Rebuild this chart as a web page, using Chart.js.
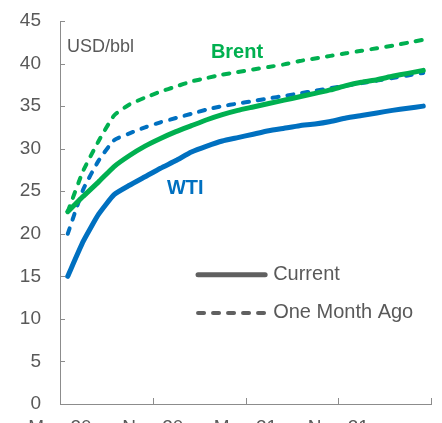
<!DOCTYPE html>
<html><head><meta charset="utf-8">
<script src="https://cdn.jsdelivr.net/npm/chart.js@4/dist/chart.umd.min.js"></script>
<style>html,body{margin:0;padding:0;background:#fff;overflow:hidden}#wrap{width:442px;height:423px;position:relative}</style>
</head><body><div id="wrap"><canvas id="c"></canvas></div>
<script>
// contract months, as months after May-20 (mid-month positions)
const contractMonths = [0.5,1.5,2.5,3.5,4.5,5.5,6.5,7.5,8.5,9.5,10.5,11.5,12.5,13.5,14.5,15.5,16.5,17.5,18.5,19.5,20.5,21.5,22.5,23.5];
const brentCurrent  = [22.6,24.4,26.1,27.9,29.2,30.3,31.2,32.0,32.7,33.4,34.0,34.5,34.9,35.3,35.7,36.1,36.5,36.9,37.4,37.8,38.1,38.5,38.85,39.2];
const brentMonthAgo = [22.6,27.4,30.9,33.9,35.2,36.0,36.7,37.3,37.9,38.3,38.7,39.0,39.3,39.6,39.9,40.3,40.6,40.9,41.2,41.5,41.8,42.1,42.45,42.8];
const wtiCurrent    = [15.0,19.1,22.3,24.6,25.7,26.7,27.7,28.6,29.6,30.3,30.9,31.3,31.7,32.1,32.4,32.7,32.9,33.2,33.6,33.9,34.2,34.5,34.75,35.0];
const wtiMonthAgo   = [20.0,25.2,28.6,31.0,31.8,32.5,33.1,33.6,34.1,34.6,35.0,35.3,35.6,35.9,36.2,36.5,36.8,37.1,37.4,37.7,38.0,38.3,38.6,38.9];
const xTickLabels = ['May-20','Nov-20','May-21','Nov-21'];
const yUnit = 'USD/bbl';
const legendItems = ['Current','One Month Ago'];
const seriesNames = ['Brent','WTI'];

const GREEN = '#00B050', BLUE = '#0070C0', AXIS = '#8c8c8c', TEXT = '#595959';
const FONT = "'Liberation Sans', Arial, sans-serif";

const toPts = vals => vals.map((v,i)=>({x:contractMonths[i], y:v}));
const solid = (label, vals, color) => ({label, data: toPts(vals), borderColor: color, borderWidth: 5, pointRadius: 0, tension: 0.15, borderCapStyle:'round', borderJoinStyle:'round', fill:false});
const dashed = (label, vals, color) => ({label, data: toPts(vals), borderColor: color, borderWidth: 4, borderDash:[6,9], pointRadius: 0, tension: 0.15, borderCapStyle:'round', borderJoinStyle:'round', fill:false});

const innerTicks = {
  id:'innerTicks',
  beforeDatasetsDraw(chart){
    const {ctx, scales:{x,y}, chartArea:a} = chart;
    ctx.save(); ctx.strokeStyle = AXIS; ctx.lineWidth = 1; ctx.beginPath();
    y.ticks.forEach(t=>{const py=Math.round(y.getPixelForValue(t.value))+0.5; ctx.moveTo(a.left, py); ctx.lineTo(a.left+5, py);});
    x.ticks.forEach(t=>{const px=Math.round(x.getPixelForValue(t.value))+0.5; ctx.moveTo(px, a.bottom); ctx.lineTo(px, a.bottom-6);});
    ctx.stroke(); ctx.restore();
  }
};

const annotations = {
  id:'annotations',
  afterDatasetsDraw(chart){
    const {ctx, scales:{x,y}} = chart;
    ctx.save();
    ctx.textBaseline = 'middle';
    ctx.font = '18px ' + FONT; ctx.fillStyle = TEXT; ctx.textAlign = 'left';
    ctx.fillText(yUnit, x.getPixelForValue(0.45), y.getPixelForValue(42.0));
    ctx.font = 'bold 20px ' + FONT; ctx.textAlign = 'center';
    ctx.fillStyle = GREEN; ctx.fillText(seriesNames[0], x.getPixelForValue(11.45), y.getPixelForValue(41.3));
    ctx.fillStyle = BLUE;  ctx.fillText(seriesNames[1], x.getPixelForValue(8.1), y.getPixelForValue(25.3));
    const lx0 = x.getPixelForValue(8.8), lx1 = x.getPixelForValue(13.4);
    const ly1 = y.getPixelForValue(15.2), ly2 = y.getPixelForValue(10.7);
    ctx.strokeStyle = '#606060'; ctx.lineCap = 'round';
    ctx.lineWidth = 5; ctx.beginPath(); ctx.moveTo(lx0+2, ly1); ctx.lineTo(lx1-2, ly1); ctx.stroke();
    ctx.lineWidth = 4; ctx.setLineDash([6,9]); ctx.beginPath(); ctx.moveTo(lx0+2, ly2); ctx.lineTo(lx1, ly2); ctx.stroke();
    ctx.setLineDash([]);
    ctx.font = '20px ' + FONT; ctx.fillStyle = TEXT; ctx.textAlign = 'left';
    ctx.fillText(legendItems[0], lx1 + 6, ly1);
    ctx.fillText(legendItems[1], lx1 + 6, ly2);
    ctx.restore();
  }
};

new Chart(document.getElementById('c'), {
  type:'line',
  data:{datasets:[
    solid('Brent Current', brentCurrent, GREEN),
    solid('WTI Current', wtiCurrent, BLUE),
    dashed('WTI One Month Ago', wtiMonthAgo, BLUE),
    dashed('Brent One Month Ago', brentMonthAgo, GREEN)
  ]},
  options:{
    responsive:true, maintainAspectRatio:false, animation:false,
    layout:{padding:{top:21, right:11, left:0, bottom:0}},
    plugins:{legend:{display:false}, tooltip:{enabled:false}},
    scales:{
      x:{type:'linear', min:0, max:24,
        grid:{display:false, drawTicks:false}, border:{display:true, color:AXIS, width:1},
        ticks:{stepSize:6, autoSkip:false, maxRotation:0, padding:12, color:TEXT, font:{family:FONT, size:19},
          callback:(v)=> xTickLabels[Math.round(v/6)] ?? ''},
        afterFit(s){ s.height = 19; s.paddingLeft = 0; s.paddingRight = 0; }
      },
      y:{min:0, max:45,
        grid:{display:false, drawTicks:false}, border:{display:true, color:AXIS, width:1},
        ticks:{stepSize:5, padding:19, color:TEXT, font:{family:FONT, size:19}},
        afterFit(s){ s.width = 60; s.paddingTop = 0; s.paddingBottom = 0; }
      }
    }
  },
  plugins:[innerTicks, annotations]
});
</script></body></html>
